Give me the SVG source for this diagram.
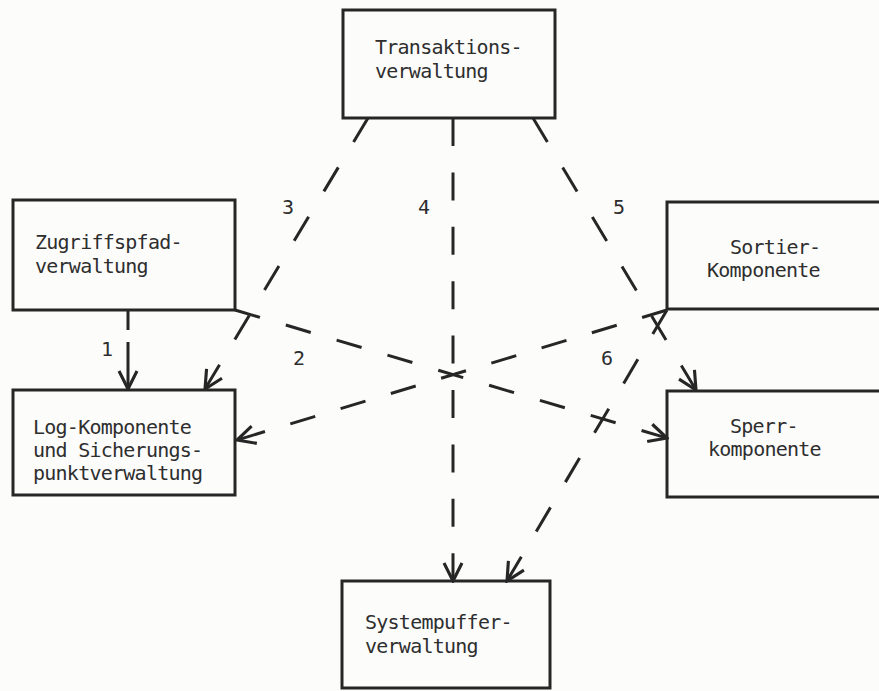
<svg xmlns="http://www.w3.org/2000/svg" width="879" height="691" viewBox="0 0 879 691">
<style>
.box{fill:none;stroke:#262626;stroke-width:3}
.t{font-family:"DejaVu Sans Mono","Liberation Mono",monospace;font-size:20px;letter-spacing:-0.75px;fill:#2e2e2e}
.lbl{font-family:"DejaVu Sans Mono","Liberation Mono",monospace;font-size:20px;fill:#2e2e2e;text-anchor:middle}
.c{fill:none;stroke:#262626;stroke-width:3;marker-end:url(#arr)}
</style>
<defs>
<marker id="arr" markerUnits="userSpaceOnUse" markerWidth="24" markerHeight="24" viewBox="-18 -10 20 20" refX="0" refY="0" orient="auto">
<path d="M-15,-7.5 L0,0 L-15,7.5" fill="none" stroke="#262626" stroke-width="2.6"/>
</marker>
</defs>
<rect width="879" height="691" fill="#fcfcfb"/>
<g id="connectors">
<path class="c" d="M128,310 L128,389" stroke-dasharray="20 12 200"/>
<path class="c" d="M235,310 L667,438" stroke-dasharray="26 27"/>
<path class="c" d="M368,118 L205,389" stroke-dasharray="28 29.6"/>
<path class="c" d="M453,118 L453,581" stroke-dasharray="28 26.4"/>
<path class="c" d="M533,118 L696,390" stroke-dasharray="28 29.7"/>
<path class="c" d="M667,310 L237,440" stroke-dasharray="26 26.5"/>
<path class="c" d="M667,310 L507,581" stroke-dasharray="28 29.3"/>
<text class="lbl" x="107" y="356">1</text>
<text class="lbl" x="299" y="365">2</text>
<text class="lbl" x="288" y="214">3</text>
<text class="lbl" x="424" y="214">4</text>
<text class="lbl" x="619" y="214">5</text>
<text class="lbl" x="607" y="365">6</text>
</g>
<g id="transaktionsverwaltung">
<rect class="box" x="343" y="10" width="212" height="108"/>
<text class="t" x="375" y="54">Transaktions-</text>
<text class="t" x="375" y="78">verwaltung</text>
</g>
<g id="zugriffspfadverwaltung">
<rect class="box" x="13" y="200" width="222" height="110"/>
<text class="t" x="35" y="249">Zugriffspfad-</text>
<text class="t" x="35" y="273">verwaltung</text>
</g>
<g id="log-komponente">
<rect class="box" x="13" y="390" width="222" height="105"/>
<text class="t" x="33" y="434">Log-Komponente</text>
<text class="t" x="33" y="457">und Sicherungs-</text>
<text class="t" x="33" y="480">punktverwaltung</text>
</g>
<g id="sortier-komponente">
<rect class="box" x="667" y="202" width="230" height="107"/>
<text class="t" x="730" y="254">Sortier-</text>
<text class="t" x="707" y="277">Komponente</text>
</g>
<g id="sperrkomponente">
<rect class="box" x="667" y="391" width="230" height="106"/>
<text class="t" x="730" y="433">Sperr-</text>
<text class="t" x="708" y="456">komponente</text>
</g>
<g id="systempufferverwaltung">
<rect class="box" x="342" y="581" width="208" height="107"/>
<text class="t" x="365" y="629">Systempuffer-</text>
<text class="t" x="365" y="653">verwaltung</text>
</g>
</svg>
